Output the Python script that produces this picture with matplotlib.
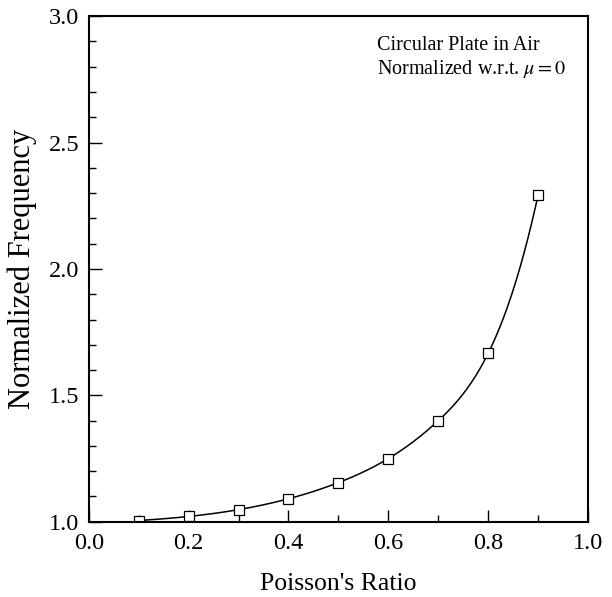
import numpy as np
import matplotlib.pyplot as plt
from matplotlib.ticker import MultipleLocator

plt.rcParams['font.family'] = ['Liberation Serif', 'DejaVu Serif']
plt.rcParams['mathtext.fontset'] = 'stix'

# valores
poisson = [0.1, 0.2, 0.3, 0.4, 0.5, 0.6, 0.7, 0.8, 0.9]
freq = [1.005, 1.021, 1.048, 1.091, 1.155, 1.250, 1.400, 1.667, 2.294]


# spline cubica (not-a-knot) so para desenhar a curva suave entre os pontos
def spline(x, y, xs):
    x = np.asarray(x, float)
    y = np.asarray(y, float)
    n = len(x)
    h = np.diff(x)
    A = np.zeros((n, n))
    b = np.zeros(n)
    A[0, 0], A[0, 1], A[0, 2] = h[1], -(h[0] + h[1]), h[0]
    A[-1, -3], A[-1, -2], A[-1, -1] = h[-1], -(h[-2] + h[-1]), h[-2]
    for i in range(1, n - 1):
        A[i, i - 1] = h[i - 1]
        A[i, i] = 2 * (h[i - 1] + h[i])
        A[i, i + 1] = h[i]
        b[i] = 6 * ((y[i + 1] - y[i]) / h[i] - (y[i] - y[i - 1]) / h[i - 1])
    M = np.linalg.solve(A, b)
    idx = np.clip(np.searchsorted(x, xs) - 1, 0, n - 2)
    x0, x1 = x[idx], x[idx + 1]
    hh = x1 - x0
    t0, t1 = x1 - xs, xs - x0
    return (M[idx] * t0**3 / (6 * hh) + M[idx + 1] * t1**3 / (6 * hh)
            + (y[idx] / hh - M[idx] * hh / 6) * t0
            + (y[idx + 1] / hh - M[idx + 1] * hh / 6) * t1)


xs = np.linspace(poisson[0], poisson[-1], 300)

fig = plt.figure(figsize=(6.12, 5.97), dpi=100)
ax = fig.add_axes([0.145, 0.126, 0.816, 0.847])

ax.plot(xs, spline(poisson, freq, xs), color='black', lw=1.1)
ax.plot(poisson, freq, 's', ms=7, mfc='white', mec='black', mew=0.9)

ax.set_xlim(0, 1)
ax.set_ylim(1, 3)
ax.xaxis.set_major_locator(MultipleLocator(0.2))
ax.xaxis.set_minor_locator(MultipleLocator(0.1))
ax.yaxis.set_major_locator(MultipleLocator(0.5))
ax.yaxis.set_minor_locator(MultipleLocator(0.1))
ax.xaxis.set_major_formatter(plt.FormatStrFormatter('%.1f'))
ax.yaxis.set_major_formatter(plt.FormatStrFormatter('%.1f'))
ax.tick_params(which='both', direction='in', labelsize=17.5)
ax.tick_params(which='major', length=9, width=1)
ax.tick_params(which='minor', length=5, width=1)
ax.tick_params(axis='x', pad=8)
ax.tick_params(axis='y', pad=7)
for s in ax.spines.values():
    s.set_linewidth(1.5)

ax.set_xlabel("Poisson's Ratio", fontsize=18.5, labelpad=14)
ax.set_ylabel('Normalized Frequency', fontsize=22, labelpad=8)

ax.text(0.578, 0.96, 'Circular Plate in Air\nNormalized w.r.t. $\\mu = 0$',
        transform=ax.transAxes, fontsize=14.5, va='top', ha='left',
        linespacing=1.15)

fig.savefig('out.png', dpi=100)
